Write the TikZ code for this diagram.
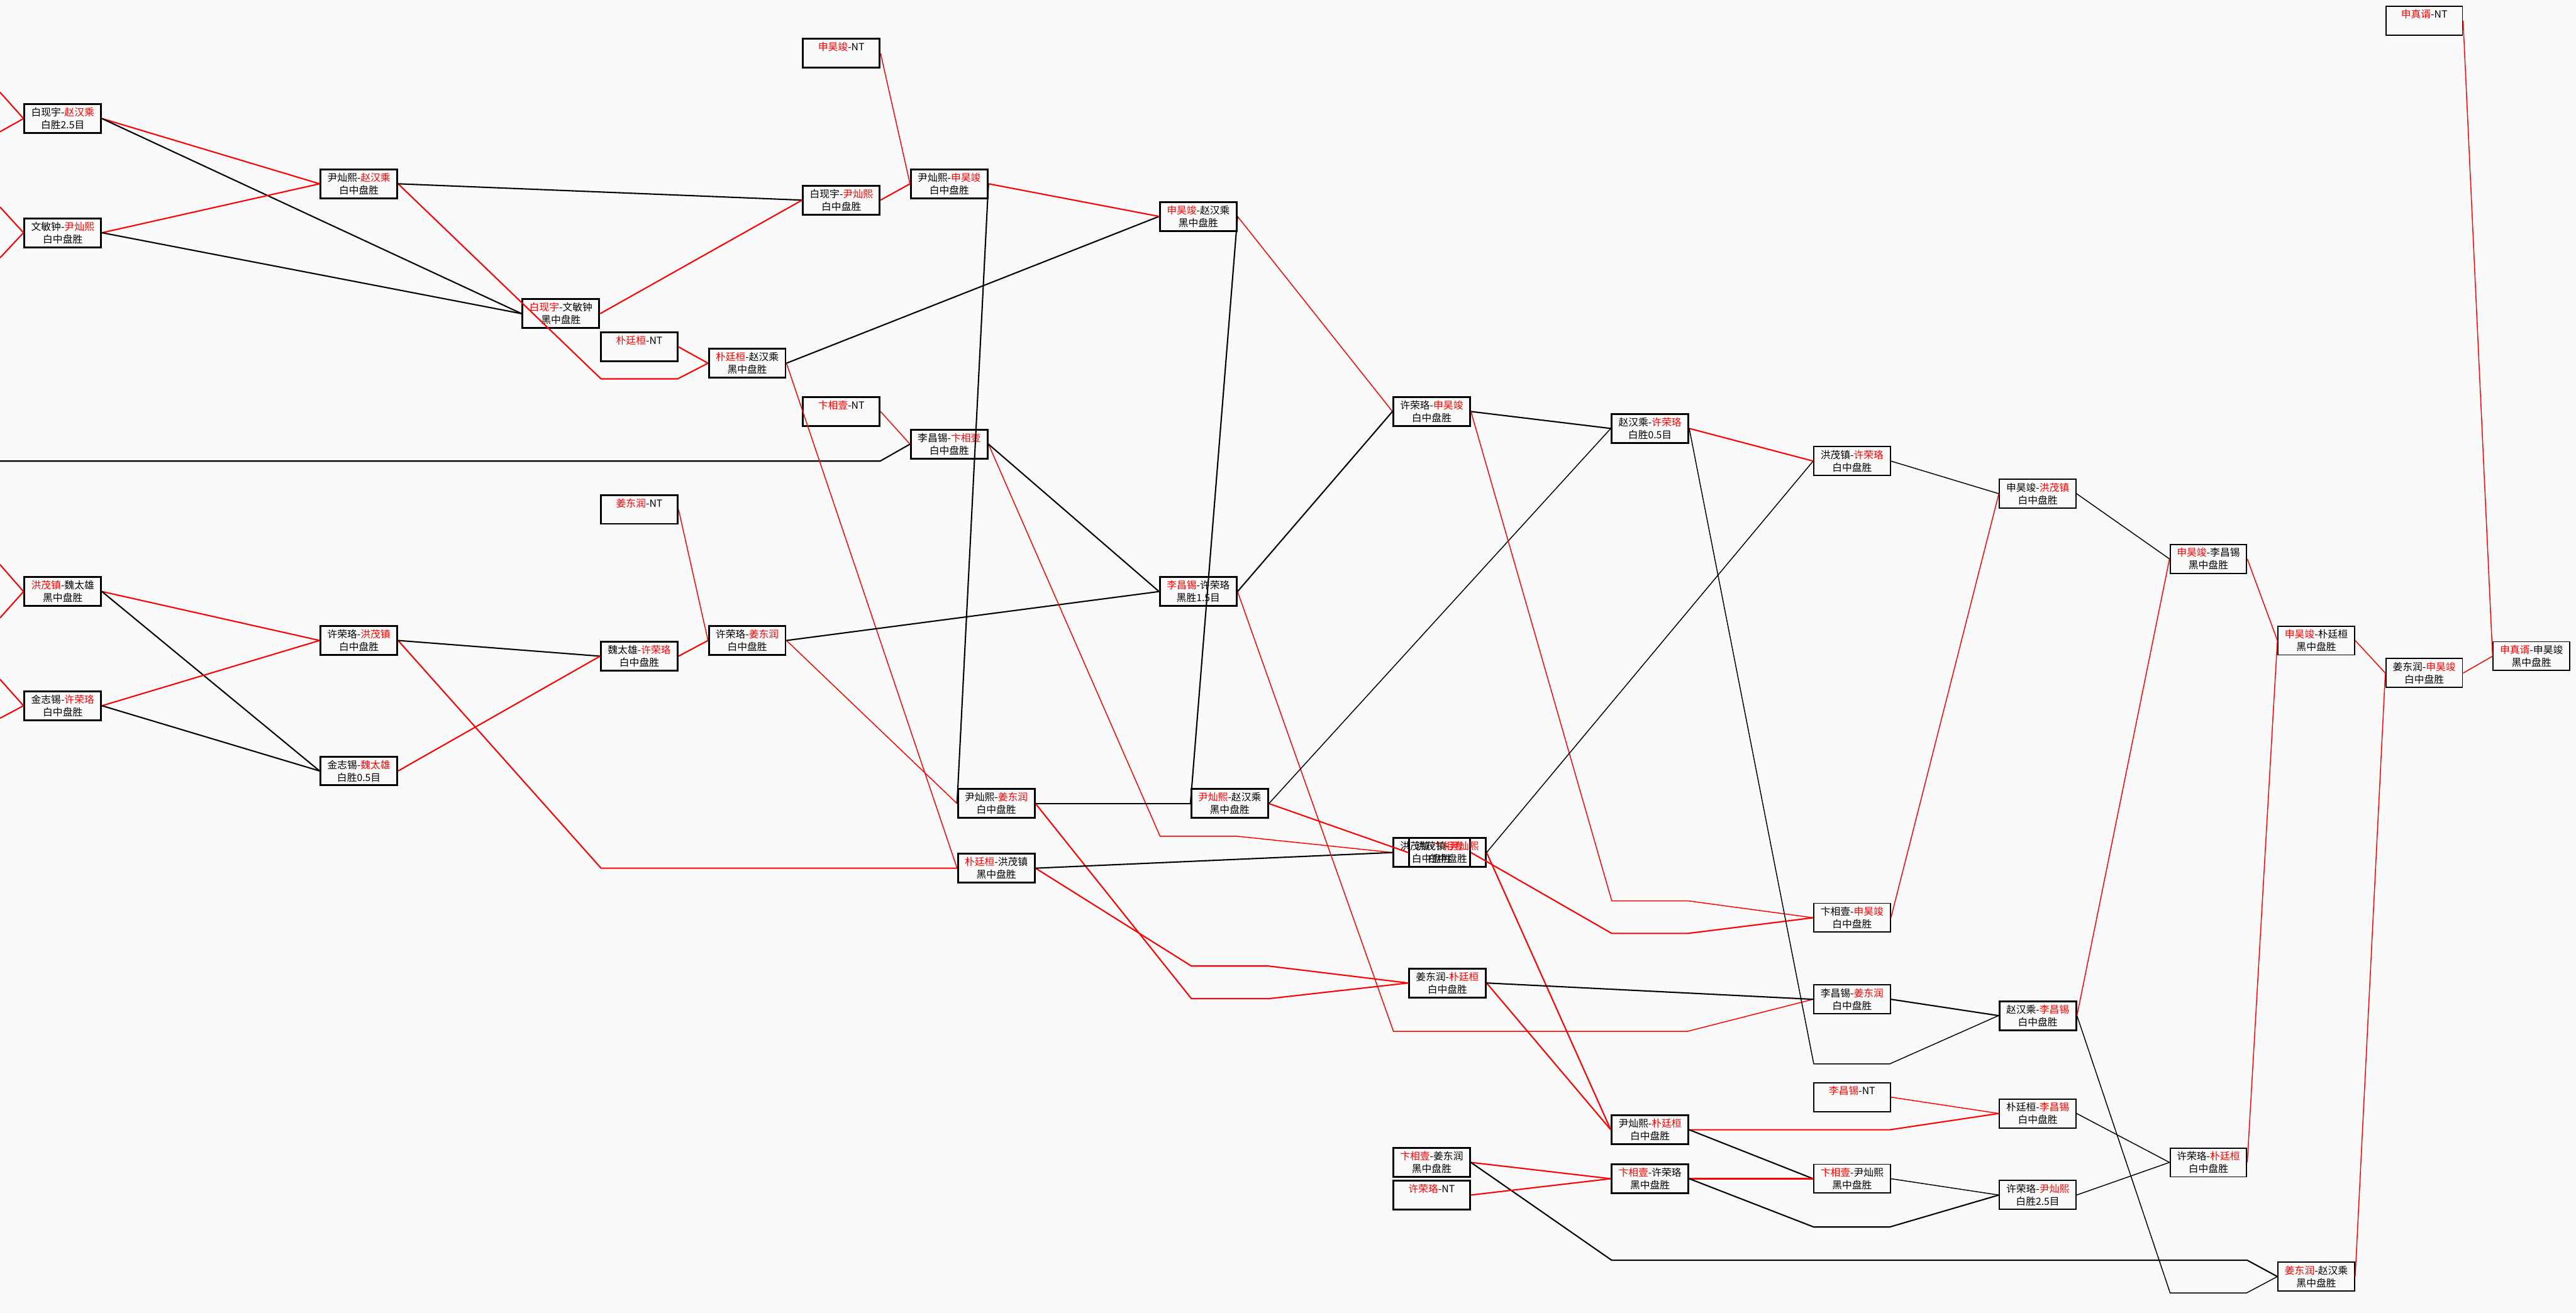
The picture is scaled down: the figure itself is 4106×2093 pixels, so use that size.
\documentclass[tikz,border=0pt]{standalone}
\usepackage{fontspec}
\newfontfamily\cjk{Noto Sans CJK SC}
\newcommand{\rd}[1]{\textcolor{red}{#1}}
\newcommand{\gf}{\cjk\fontsize{4.5pt}{5.7pt}\selectfont}
\tikzset{
  gbox/.style={draw=black, line width=0.85pt, rectangle, minimum width=1.22cm, minimum height=0.46cm, inner sep=0pt, align=center, font=\gf},
  tbox/.style={gbox, line width=0.55pt},
  win/.style={draw=red, line width=0.6pt},
  lose/.style={draw=black, line width=0.6pt},
  winth/.style={draw=red, line width=0.42pt},
  loseth/.style={draw=black, line width=0.42pt}
}
\begin{document}
\begin{tikzpicture}[x=0.01cm,y=-0.01cm]
\useasboundingbox (0,0) rectangle (4106,2093);
\fill[black!2] (0,0) rectangle (4106,2093);
% ---- nodes ----
\node[gbox] (g1) at (100,189) {白现宇-\rd{赵汉乘}\\白胜2.5目};
\node[gbox] (g2) at (100,371) {文敏钟-\rd{尹灿熙}\\白中盘胜};
\node[gbox] (g3) at (100,943) {\rd{洪茂镇}-魏太雄\\黑中盘胜};
\node[gbox] (g4) at (100,1125) {金志锡-\rd{许荣珞}\\白中盘胜};
\node[gbox] (g5) at (572,293) {尹灿熙-\rd{赵汉乘}\\白中盘胜};
\node[gbox] (g6) at (572,1021) {许荣珞-\rd{洪茂镇}\\白中盘胜};
\node[gbox] (g7) at (572,1229) {金志锡-\rd{魏太雄}\\白胜0.5目};
\node[gbox] (g8) at (894,500) {\rd{白现宇}-文敏钟\\黑中盘胜};
\node[gbox] (n1) at (1019,553) {\rd{朴廷桓}-NT\\\phantom{白}};
\node[gbox] (n2) at (1019,812) {\rd{姜东润}-NT\\\phantom{白}};
\node[gbox] (g9) at (1019,1046) {魏太雄-\rd{许荣珞}\\白中盘胜};
\node[gbox] (g10) at (1191,579) {\rd{朴廷桓}-赵汉乘\\黑中盘胜};
\node[gbox] (g11) at (1191,1021) {许荣珞-\rd{姜东润}\\白中盘胜};
\node[gbox] (n3) at (1341,85) {\rd{申昊竣}-NT\\\phantom{白}};
\node[gbox] (g12) at (1341,319) {白现宇-\rd{尹灿熙}\\白中盘胜};
\node[gbox] (n4) at (1341,656) {\rd{卞相壹}-NT\\\phantom{白}};
\node[gbox] (g13) at (1513,293) {尹灿熙-\rd{申昊竣}\\白中盘胜};
\node[gbox] (g14) at (1513,708) {李昌锡-\rd{卞相壹}\\白中盘胜};
\node[gbox] (g15) at (1588,1281) {尹灿熙-\rd{姜东润}\\白中盘胜};
\node[gbox] (g16) at (1588,1384) {\rd{朴廷桓}-洪茂镇\\黑中盘胜};
\node[gbox] (g17) at (1910,345) {\rd{申昊竣}-赵汉乘\\黑中盘胜};
\node[gbox] (g18) at (1910,943) {\rd{李昌锡}-许荣珞\\黑胜1.5目};
\node[gbox] (g19) at (1960,1281) {\rd{尹灿熙}-赵汉乘\\黑中盘胜};
\node[gbox] (g20) at (2282,656) {许荣珞-\rd{申昊竣}\\白中盘胜};
\node[gbox] (gx) at (2282,1359) {洪茂镇-\rd{卞相壹}\\白中盘胜};
\node[gbox] (gy) at (2307,1359) {洪茂镇-\rd{尹灿熙}\\白中盘胜};
\node[gbox] (g23) at (2307,1567) {姜东润-\rd{朴廷桓}\\白中盘胜};
\node[gbox] (g24) at (2282,1853) {\rd{卞相壹}-姜东润\\黑中盘胜};
\node[gbox] (n5) at (2282,1905) {\rd{许荣珞}-NT\\\phantom{白}};
\node[gbox] (g25) at (2630,683) {赵汉乘-\rd{许荣珞}\\白胜0.5目};
\node[gbox] (g26) at (2630,1801) {尹灿熙-\rd{朴廷桓}\\白中盘胜};
\node[gbox] (g27) at (2630,1879) {\rd{卞相壹}-许荣珞\\黑中盘胜};
\node[tbox] (g28) at (2952,735) {洪茂镇-\rd{许荣珞}\\白中盘胜};
\node[tbox] (g29) at (2952,1463) {卞相壹-\rd{申昊竣}\\白中盘胜};
\node[tbox] (g30) at (2952,1593) {李昌锡-\rd{姜东润}\\白中盘胜};
\node[tbox] (n6) at (2952,1749) {\rd{李昌锡}-NT\\\phantom{白}};
\node[tbox] (g31) at (2952,1879) {\rd{卞相壹}-尹灿熙\\黑中盘胜};
\node[tbox] (g32) at (3248,787) {申昊竣-\rd{洪茂镇}\\白中盘胜};
\node[gbox] (g33) at (3248,1619) {赵汉乘-\rd{李昌锡}\\白中盘胜};
\node[tbox] (g34) at (3248,1775) {朴廷桓-\rd{李昌锡}\\白中盘胜};
\node[tbox] (g35) at (3248,1905) {许荣珞-\rd{尹灿熙}\\白胜2.5目};
\node[tbox] (g36) at (3520,891) {\rd{申昊竣}-李昌锡\\黑中盘胜};
\node[tbox] (g37) at (3520,1853) {许荣珞-\rd{朴廷桓}\\白中盘胜};
\node[tbox] (g38) at (3692,1021) {\rd{申昊竣}-朴廷桓\\黑中盘胜};
\node[tbox] (g39) at (3692,2035) {\rd{姜东润}-赵汉乘\\黑中盘胜};
\node[tbox] (n7) at (3864,33) {\rd{申真谞}-NT\\\phantom{白}};
\node[tbox] (g40) at (3864,1073) {姜东润-\rd{申昊竣}\\白中盘胜};
\node[tbox] (g41) at (4035,1046) {\rd{申真谞}-申昊竣\\黑中盘胜};
% ---- free ends at the left edge ----
\coordinate (e1) at (0,147);
\coordinate (e2) at (0,210);
\coordinate (e3) at (0,330);
\coordinate (e5) at (0,411);
\coordinate (e6) at (0,900);
\coordinate (e7) at (0,985);
\coordinate (e8) at (0,1083);
\coordinate (e9) at (0,1145);
\coordinate (e10) at (0,735);
% ---- connectors ----
\draw[win] (e1) -- (g1.west);
\draw[win] (e2) -- (g1.west);
\draw[win] (e3) -- (g2.west);
\draw[win] (e5) -- (g2.west);
\draw[win] (e6) -- (g3.west);
\draw[win] (e7) -- (g3.west);
\draw[win] (e8) -- (g4.west);
\draw[win] (e9) -- (g4.west);
\draw[lose] (e10) -- (1403,735) -- (g14.west);
\draw[win] (g1.east) -- (g5.west);
\draw[lose] (g1.east) -- (g8.west);
\draw[win] (g2.east) -- (g5.west);
\draw[lose] (g2.east) -- (g8.west);
\draw[win] (g3.east) -- (g6.west);
\draw[lose] (g3.east) -- (g7.west);
\draw[win] (g4.east) -- (g6.west);
\draw[lose] (g4.east) -- (g7.west);
\draw[win] (g5.east) -- (958,604) -- (1080,604) -- (g10.west);
\draw[lose] (g5.east) -- (g12.west);
\draw[win] (g6.east) -- (958,1384) -- (g16.west);
\draw[lose] (g6.east) -- (g9.west);
\draw[win] (g7.east) -- (g9.west);
\draw[win] (g8.east) -- (g12.west);
\draw[win] (n1.east) -- (g10.west);
\draw[winth] (n2.east) -- (g11.west);
\draw[win] (g9.east) -- (g11.west);
\draw[winth] (g10.east) -- (g16.west);
\draw[lose] (g10.east) -- (g17.west);
\draw[winth] (g11.east) -- (g15.west);
\draw[lose] (g11.east) -- (g18.west);
\draw[winth] (n3.east) -- (g13.west);
\draw[win] (g12.east) -- (g13.west);
\draw[winth] (n4.east) -- (g14.west);
\draw[win] (g13.east) -- (g17.west);
\draw[lose] (g13.east) -- (g15.west);
\draw[winth] (g14.east) -- (1849,1333) -- (1971,1333) -- (gx.west);
\draw[lose] (g14.east) -- (g18.west);
\draw[win] (g15.east) -- (1899,1592) -- (2022,1592) -- (g23.west);
\draw[lose] (g15.east) -- (g19.west);
\draw[win] (g16.east) -- (1899,1540) -- (2022,1540) -- (g23.west);
\draw[lose] (g16.east) -- (gx.west);
\draw[winth] (g17.east) -- (g20.west);
\draw[lose] (g17.east) -- (g19.west);
\draw[winth] (g18.east) -- (2221,1644) -- (2690,1644) -- (g30.west);
\draw[lose] (g18.east) -- (g20.west);
\draw[win] (g19.east) -- (gy.west);
\draw[loseth] (g19.east) -- (g25.west);
\draw[winth] (g20.east) -- (2569,1436) -- (2690,1436) -- (g29.west);
\draw[lose] (g20.east) -- (g25.west);
\draw[win] (gx.east) -- (2569,1488) -- (2690,1488) -- (g29.west);
\draw[win] (gy.east) -- (g26.west);
\draw[loseth] (gy.east) -- (g28.west);
\draw[win] (g23.east) -- (g26.west);
\draw[lose] (g23.east) -- (g30.west);
\draw[win] (g24.east) -- (g27.west);
\draw[lose] (g24.east) -- (2569,2009) -- (3582,2009) -- (g39.west);
\draw[win] (n5.east) -- (g27.west);
\draw[win] (g25.east) -- (g28.west);
\draw[loseth] (g25.east) -- (2891,1696) -- (3012,1696) -- (g33.west);
\draw[win] (g26.east) -- (3012,1801) -- (g34.west);
\draw[lose] (g26.east) -- (g31.west);
\draw[win] (g27.east) -- (g31.west);
\draw[lose] (g27.east) -- (2891,1956) -- (3012,1956) -- (g35.west);
\draw[loseth] (g28.east) -- (g32.west);
\draw[winth] (g29.east) -- (g32.west);
\draw[lose] (g30.east) -- (g33.west);
\draw[winth] (n6.east) -- (g34.west);
\draw[loseth] (g31.east) -- (g35.west);
\draw[loseth] (g32.east) -- (g36.west);
\draw[winth] (g33.east) -- (g36.west);
\draw[loseth] (g33.east) -- (3459,2061) -- (3581,2061) -- (g39.west);
\draw[loseth] (g34.east) -- (g37.west);
\draw[loseth] (g35.east) -- (g37.west);
\draw[winth] (g36.east) -- (g38.west);
\draw[winth] (g37.east) -- (g38.west);
\draw[winth] (g38.east) -- (g40.west);
\draw[winth] (g39.east) -- (g40.west);
\draw[winth] (g40.east) -- (g41.west);
\draw[winth] (n7.east) -- (g41.west);
\end{tikzpicture}
\end{document}
